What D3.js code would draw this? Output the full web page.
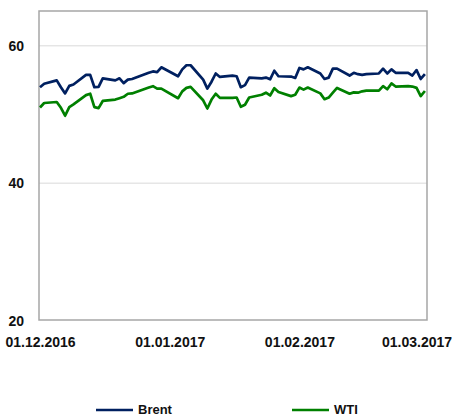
<!DOCTYPE html>
<html>
<head>
<meta charset="utf-8">
<script src="https://cdn.jsdelivr.net/npm/d3@7"></script>
<style>
  body { margin: 0; background: #fff; }
  text { font-family: "Liberation Sans", Arial, sans-serif; font-weight: bold; fill: #111; }
</style>
</head>
<body>
<div id="chart"></div>
<script>
/* Trading days, Dec 2016 - Mar 2017 */
let dates = [
  "2016-12-01","2016-12-02","2016-12-05","2016-12-06","2016-12-07","2016-12-08","2016-12-09",
  "2016-12-12","2016-12-13","2016-12-14","2016-12-15","2016-12-16","2016-12-19","2016-12-20",
  "2016-12-21","2016-12-22","2016-12-23","2016-12-27","2016-12-28","2016-12-29","2016-12-30",
  "2017-01-03","2017-01-04","2017-01-05","2017-01-06","2017-01-09","2017-01-10","2017-01-11",
  "2017-01-12","2017-01-13","2017-01-16","2017-01-17","2017-01-18","2017-01-19","2017-01-20",
  "2017-01-23","2017-01-24","2017-01-25","2017-01-26","2017-01-27","2017-01-30","2017-01-31",
  "2017-02-01","2017-02-02","2017-02-03","2017-02-06","2017-02-07","2017-02-08","2017-02-09",
  "2017-02-10","2017-02-13","2017-02-14","2017-02-15","2017-02-16","2017-02-17","2017-02-20",
  "2017-02-21","2017-02-22","2017-02-23","2017-02-24","2017-02-27","2017-02-28",
  "2017-03-01","2017-03-02","2017-03-03"
];

let brent = [
  53.9, 54.4, 54.9, 53.9, 53.0, 54.1, 54.3, 55.7, 55.7, 53.9, 53.95, 55.2, 54.9, 55.2,
  54.5, 55.0, 55.1, 56.0, 56.2, 56.1, 56.8,
  55.5, 56.5, 57.1, 57.1, 55.0, 53.7, 54.7, 55.9, 55.4, 55.6, 55.5, 53.9, 54.2, 55.3,
  55.2, 55.3, 55.05, 56.3, 55.5, 55.45, 55.25,
  56.7, 56.5, 56.8, 55.9, 55.1, 55.3, 56.6, 56.6, 55.6, 56.0, 55.8, 55.7, 55.8, 55.9,
  56.6, 55.9, 56.5, 56.0, 56.0, 55.6,
  56.4, 55.1, 55.8
];

let wti = [
  50.95, 51.6, 51.75, 50.9, 49.75, 51.0, 51.4, 52.75, 52.95, 51.0, 50.85, 51.9, 52.1, 52.3,
  52.5, 52.95, 53.0, 53.85, 54.05, 53.7, 53.7,
  52.3, 53.3, 53.8, 53.95, 52.0, 50.8, 52.1, 52.95, 52.35, 52.35, 52.4, 51.05, 51.35, 52.4,
  52.8, 53.1, 52.7, 53.75, 53.2, 52.6, 52.8,
  53.85, 53.55, 53.85, 53.0, 52.15, 52.4, 53.1, 53.8, 52.95, 53.15, 53.1, 53.3, 53.4, 53.4,
  54.05, 53.6, 54.45, 54.0, 54.05, 54.0,
  53.8, 52.6, 53.35
];

let yTicks = [20, 40, 60];
let xTicks = ["2016-12-01", "2017-01-01", "2017-02-01", "2017-03-01"];
let seriesNames = ["Brent", "WTI"];
let seriesColors = ["#002060", "#008000"];

/* Dimensions */
let width = 452;
let height = 417;
let margin = {top: 11, bottom: 97, left: 39, right: 25};
let pWidth = width - margin.left - margin.right;
let pHeight = height - margin.top - margin.bottom;

let parse = d3.timeParse("%Y-%m-%d");

let svg = d3.select("#chart")
            .append("svg")
              .attr("width", width)
              .attr("height", height);

let xScale = d3.scaleTime()
               .domain([parse("2016-12-01"), new Date(2017, 2, 3, 12)])
               .range([1, pWidth]);

let yScale = d3.scaleLinear()
               .domain([20, 65])
               .range([pHeight, 0]);

let plot = svg.append("g")
              .attr("transform", `translate(${margin.left}, ${margin.top})`);

// gridlines
plot.append("g")
    .call(d3.axisLeft(yScale).tickValues(yTicks.slice(1)).tickSize(-pWidth).tickFormat(""))
    .call(g => g.select(".domain").remove())
    .selectAll("line")
      .attr("stroke", "#d9d9d9")
      .attr("stroke-width", 1);

// plot border
plot.append("rect")
    .attr("x", 0)
    .attr("y", 0)
    .attr("width", pWidth)
    .attr("height", pHeight)
    .attr("fill", "none")
    .attr("stroke", "#a6a6a6")
    .attr("stroke-width", 1.5);

// y axis labels
plot.append("g")
    .call(d3.axisLeft(yScale).tickValues(yTicks).tickSize(0).tickPadding(15))
    .call(g => g.select(".domain").remove())
    .selectAll("text")
      .attr("font-size", 14)
      .attr("font-family", null)
      .attr("dy", "0.36em");

// x axis labels
plot.append("g")
    .attr("transform", `translate(0, ${pHeight})`)
    .call(d3.axisBottom(xScale)
            .tickValues(xTicks.map(parse))
            .tickSize(0)
            .tickFormat(d3.timeFormat("%d.%m.%Y")))
    .call(g => g.select(".domain").remove())
    .selectAll("text")
      .attr("font-size", 14)
      .attr("font-family", null)
      .attr("y", 27)
      .attr("dy", 0);

// lines
let series = [brent, wti];
let line = d3.line()
             .x((d, i) => xScale(parse(dates[i])))
             .y(d => yScale(d));

plot.selectAll(".series")
    .data(series)
    .enter()
    .append("path")
      .attr("class", "series")
      .attr("d", d => line(d))
      .attr("fill", "none")
      .attr("stroke", (d, i) => seriesColors[i])
      .attr("stroke-width", 2.7)
      .attr("stroke-linejoin", "round");

// legend
let legend = svg.append("g");
let legendX = [96, 292];

legend.selectAll("line")
      .data(seriesNames)
      .enter()
      .append("line")
        .attr("x1", (d, i) => legendX[i])
        .attr("x2", (d, i) => legendX[i] + 37)
        .attr("y1", 410)
        .attr("y2", 410)
        .attr("stroke", (d, i) => seriesColors[i])
        .attr("stroke-width", 2.7);

legend.selectAll("text")
      .data(seriesNames)
      .enter()
      .append("text")
        .attr("x", (d, i) => legendX[i] + 42)
        .attr("y", 414)
        .attr("font-size", 13)
        .text(d => d);
</script>
</body>
</html>
